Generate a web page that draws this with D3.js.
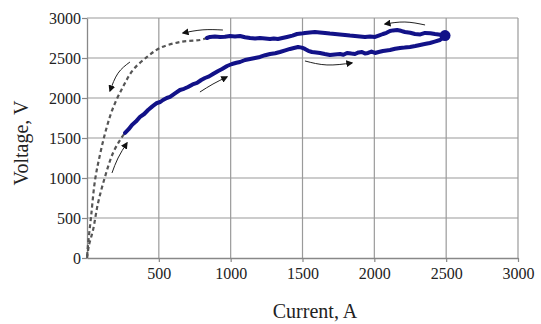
<!DOCTYPE html>
<html>
<head>
<meta charset="utf-8">
<script src="https://cdn.jsdelivr.net/npm/d3@7"></script>
<style>
  body { margin: 0; background: #fff; }
  svg text { font-family: "Liberation Serif", "DejaVu Serif", serif; fill: #222; }
</style>
</head>
<body>
<div id="chart"></div>
<script>
// rising branch (solid), current A / voltage V
const riseCurrent = [265, 290, 313, 340, 369, 398, 425, 455, 487, 510, 529, 555, 578, 610, 647, 675, 703, 735, 766, 795, 821, 850, 877, 910, 940, 975, 1009, 1040, 1065, 1100, 1135, 1170, 1204, 1240, 1274, 1310, 1343, 1380, 1413, 1440, 1469, 1495, 1517, 1540, 1566, 1595, 1622, 1655, 1691, 1725, 1761, 1785, 1810, 1840, 1865, 1890, 1914, 1935, 1956, 1980, 2005, 2030, 2060, 2085, 2109, 2145, 2179, 2210, 2248, 2285, 2318, 2350, 2387, 2420, 2457, 2492];
const riseVoltage = [1563, 1610, 1663, 1705, 1763, 1800, 1850, 1895, 1938, 1950, 1975, 2000, 2013, 2055, 2100, 2115, 2138, 2170, 2188, 2225, 2250, 2270, 2300, 2335, 2363, 2400, 2425, 2440, 2450, 2475, 2488, 2500, 2513, 2535, 2550, 2560, 2575, 2595, 2613, 2625, 2638, 2630, 2613, 2590, 2575, 2570, 2563, 2550, 2538, 2545, 2550, 2540, 2563, 2555, 2550, 2570, 2575, 2555, 2563, 2580, 2563, 2575, 2588, 2595, 2600, 2615, 2625, 2630, 2638, 2650, 2663, 2675, 2688, 2705, 2725, 2775];
// falling branch (solid)
const fallCurrent = [2492, 2460, 2422, 2390, 2353, 2320, 2283, 2250, 2213, 2185, 2158, 2130, 2109, 2085, 2060, 2030, 2005, 1970, 1935, 1900, 1865, 1830, 1796, 1760, 1726, 1690, 1657, 1620, 1587, 1550, 1517, 1490, 1462, 1430, 1392, 1360, 1329, 1300, 1274, 1240, 1204, 1170, 1135, 1100, 1065, 1030, 995, 960, 926, 890, 856, 835];
const fallVoltage = [2788, 2790, 2800, 2810, 2813, 2795, 2800, 2815, 2825, 2840, 2850, 2845, 2838, 2815, 2800, 2780, 2763, 2770, 2763, 2770, 2775, 2780, 2788, 2795, 2800, 2805, 2813, 2820, 2825, 2818, 2813, 2805, 2800, 2780, 2763, 2750, 2738, 2745, 2738, 2745, 2750, 2745, 2750, 2760, 2775, 2770, 2775, 2765, 2763, 2768, 2763, 2750];
// dashed: start-up from the origin
const startCurrent = [0, 14, 42, 77, 125, 181, 244, 265];
const startVoltage = [0, 163, 350, 688, 1013, 1313, 1513, 1563];
// dashed: return to the origin
const returnCurrent = [835, 786, 647, 508, 418, 320, 250, 181, 132, 90, 56, 28, 7, 0];
const returnVoltage = [2750, 2725, 2700, 2625, 2513, 2350, 2138, 1875, 1600, 1288, 975, 513, 163, 0];
// direction arrows [current, voltage]: start, middle, end
const arrowPaths = [
  [[299, 2450], [216, 2310], [160, 2088]],
  [[946, 2850], [807, 2852], [668, 2813]],
  [[174, 1063], [216, 1250], [278, 1438]],
  [[786, 2075], [877, 2175], [974, 2263]],
  [[1517, 2463], [1670, 2413], [1844, 2438]],
  [[2353, 2913], [2213, 2950], [2074, 2925]]
];
const xTicks = [500, 1000, 1500, 2000, 2500, 3000];
const yTicks = [0, 500, 1000, 1500, 2000, 2500, 3000];

const W = 541, H = 324;
const margin = {top: 18, right: 23, bottom: 66, left: 87};
const width = W - margin.left - margin.right,
      height = H - margin.top - margin.bottom;

const svg = d3.select("#chart").append("svg")
    .attr("width", W)
    .attr("height", H);

const defs = svg.append("defs");
defs.append("marker")
    .attr("id", "head")
    .attr("viewBox", "0 0 10 10")
    .attr("refX", 8).attr("refY", 5)
    .attr("markerWidth", 7).attr("markerHeight", 7)
    .attr("markerUnits", "userSpaceOnUse")
    .attr("orient", "auto")
  .append("path")
    .attr("d", "M0,0 L10,5 L0,10 z")
    .attr("fill", "#111");

const g = svg.append("g")
    .attr("transform", "translate(" + margin.left + "," + margin.top + ")");

const x = d3.scaleLinear().domain([0, 3000]).range([0, width]);
const y = d3.scaleLinear().domain([0, 3000]).range([height, 0]);

// grid
g.append("g")
    .selectAll("line")
    .data(xTicks)
    .join("line")
    .attr("x1", d => x(d)).attr("x2", d => x(d))
    .attr("y1", 0).attr("y2", height)
    .attr("stroke", "#9a9a9a").attr("stroke-width", 1.2);
g.append("g")
    .selectAll("line")
    .data(yTicks.filter(d => d > 0))
    .join("line")
    .attr("x1", 0).attr("x2", width)
    .attr("y1", d => y(d)).attr("y2", d => y(d))
    .attr("stroke", "#9a9a9a").attr("stroke-width", 1.2);

// axes
const fmt = d3.format("d");
const xAxis = g.append("g")
    .attr("transform", "translate(0," + height + ")")
    .call(d3.axisBottom(x).tickValues(xTicks).tickFormat(fmt).tickSizeInner(4).tickSizeOuter(0).tickPadding(6));
const yAxis = g.append("g")
    .call(d3.axisLeft(y).tickValues(yTicks).tickFormat(fmt).tickSizeInner(5).tickSizeOuter(0).tickPadding(1));
[xAxis, yAxis].forEach(a => {
  a.attr("font-family", "Liberation Serif").attr("font-size", 16);
  a.select(".domain").attr("stroke", "#888").attr("stroke-width", 1.3);
  a.selectAll(".tick line").attr("stroke", "#888").attr("stroke-width", 1.2);
  a.selectAll(".tick text").attr("fill", "#222");
});

const line = d3.line().x(d => x(d[0])).y(d => y(d[1]));
const smooth = d3.line().x(d => x(d[0])).y(d => y(d[1])).curve(d3.curveCatmullRom);

const zip = (a, b) => a.map((v, i) => [v, b[i]]);

// dashed approach curves
[zip(startCurrent, startVoltage), zip(returnCurrent, returnVoltage)].forEach(pts => {
  g.append("path")
      .datum(pts)
      .attr("fill", "none")
      .attr("stroke", "#555")
      .attr("stroke-width", 2.2)
      .attr("stroke-dasharray", "4,3")
      .attr("d", smooth);
});

// solid measured branches
[zip(riseCurrent, riseVoltage), zip(fallCurrent, fallVoltage)].forEach(pts => {
  g.append("path")
      .datum(pts)
      .attr("fill", "none")
      .attr("stroke", "#121288")
      .attr("stroke-width", 4)
      .attr("stroke-linejoin", "round")
      .attr("stroke-linecap", "round")
      .attr("d", line);
});
g.append("circle")
    .attr("cx", x(riseCurrent[riseCurrent.length - 1]))
    .attr("cy", y(2780))
    .attr("r", 5.5)
    .attr("fill", "#121288");

// arrows
arrowPaths.forEach(p => {
  g.append("path")
      .datum(p)
      .attr("fill", "none")
      .attr("stroke", "#222")
      .attr("stroke-width", 1)
      .attr("marker-end", "url(#head)")
      .attr("d", d3.line().x(d => x(d[0])).y(d => y(d[1])).curve(d3.curveNatural));
});

// axis titles
svg.append("text")
    .attr("x", 315).attr("y", 318)
    .attr("text-anchor", "middle")
    .style("font-size", "20px")
    .text("Current, A");
svg.append("text")
    .attr("transform", "translate(28,143) rotate(-90)")
    .attr("text-anchor", "middle")
    .style("font-size", "20px")
    .text("Voltage, V");
</script>
</body>
</html>
